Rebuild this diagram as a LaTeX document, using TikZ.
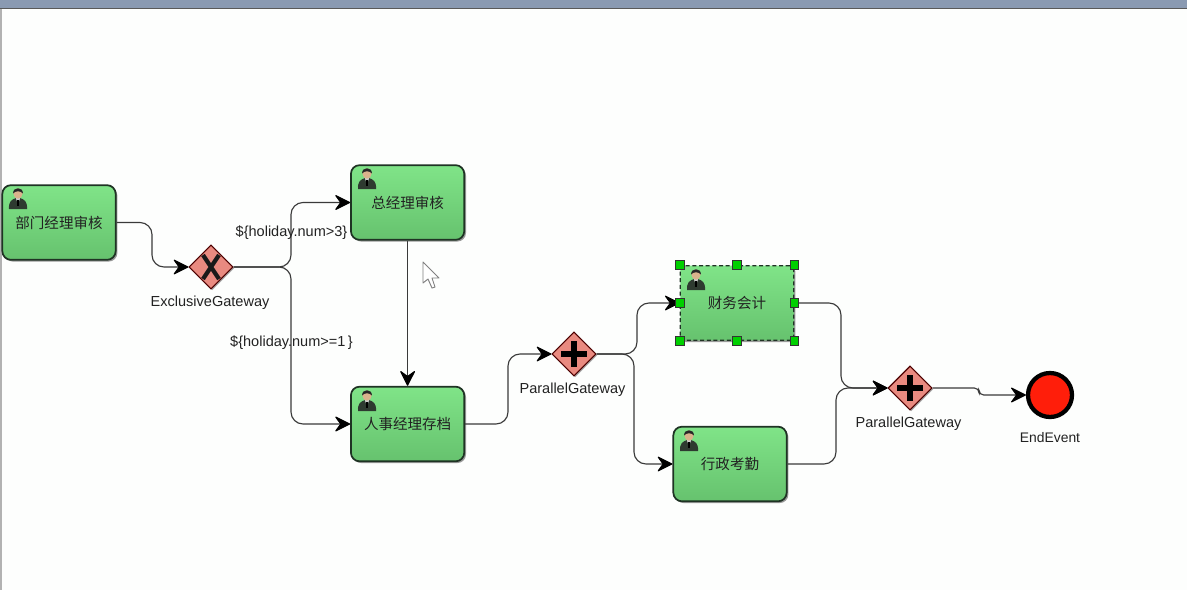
\documentclass[tikz,border=0pt]{standalone}
\usepackage{fontspec}
\setmainfont{Liberation Sans}
\newfontfamily\cjk{Noto Sans CJK SC}
\usetikzlibrary{arrows.meta,shapes.geometric,shadows}
\definecolor{bgc}{HTML}{FDFEFD}
\definecolor{barc}{HTML}{8A9AB2}
\definecolor{edgec}{HTML}{3A3A3A}
\definecolor{gtop}{HTML}{80E488}
\definecolor{gbot}{HTML}{66C26E}
\definecolor{gatec}{HTML}{E98A80}
\definecolor{handlec}{HTML}{00D000}
\definecolor{endc}{HTML}{FF1E0A}
\definecolor{txtc}{HTML}{222222}
\definecolor{boxc}{HTML}{1F3324}
\definecolor{suitc}{HTML}{2E3A30}
\tikzset{
  taskbox/.style={draw=boxc,line width=1.3pt,rounded corners=6.5pt,
    minimum width=85pt,minimum height=56pt,inner sep=0pt,top color=gtop,bottom color=gbot,
    copy shadow={shadow xshift=1.3pt,shadow yshift=-1.3pt,draw=none,fill=black!40},
    font=\cjk\fontsize{10.9}{12}\selectfont,text=txtc},
  selbox/.style={taskbox,line width=.9pt,rounded corners=3pt,dash pattern=on 3pt off 2pt},
  gate/.style={diamond,shape aspect=1,draw=black!70!red,line width=.8pt,fill=gatec,
    minimum width=33pt,minimum height=33pt,inner sep=0pt,
    copy shadow={shadow xshift=1pt,shadow yshift=-1pt,draw=none,fill=black!35}},
  endnode/.style={circle,draw=black,line width=3.2pt,fill=endc,minimum size=33pt,inner sep=0pt},
  lbl/.style={font=\fontsize{10.9}{12}\selectfont,text=txtc,inner sep=0pt},
  flow/.style={draw=edgec,line width=.85pt,rounded corners=9pt,
    -{Stealth[length=12.5pt,width=12.5pt,inset=4.5pt,round,color=black]}},
  handle/.style={rectangle,draw=black!80,line width=.6pt,fill=handlec,minimum size=6.5pt,inner sep=0pt}
}
\newcommand{\personicon}[1]{%
  \begin{scope}[shift={(#1)}]
    \fill[suitc] (-9,13) .. controls (-9.5,5) and (-6,3.5) .. (-2,2) -- (2,2) .. controls (6,3.5) and (9.5,5) .. (9,13) -- cycle;
    \fill[black!20] (-2.2,2.2) -- (2.2,2.2) -- (0,8) -- cycle;
    \fill[black] (-.7,3.5) rectangle (.7,10);
    \fill[brown!60!white] (0,-2.5) ellipse (4.6 and 5.2);
    \fill[black!85] (-4.9,-2.5) .. controls (-5.4,-9.5) and (5.4,-9.5) .. (4.9,-2.5) .. controls (3,-5.5) and (-3,-5.5) .. (-4.9,-2.5) -- cycle;
  \end{scope}}
\begin{document}
\begin{tikzpicture}[x=.75pt,y=-.75pt]
\useasboundingbox (0,0) rectangle (1187,590);
\fill[bgc] (0,0) rectangle (1187,590);
\fill[barc] (0,0) rectangle (1187,8);
\fill[black!65] (0,7.5) rectangle (1187,9);
\fill[black!30] (0,9) rectangle (2,590);

\node[taskbox] (a) at (59,222.5) {部门经理审核};
\node[taskbox] (b) at (407.6,202.5) {总经理审核};
\node[taskbox] (c) at (407.6,424) {人事经理存档};
\node[selbox] (d) at (737,303) {财务会计};
\node[taskbox] (e) at (730,464) {行政考勤};
\personicon{18,196}
\personicon{367,176}
\personicon{367,398}
\personicon{696,277}
\personicon{689,438}

\node[gate] (g1) at (211,267) {};
\node[gate] (g2) at (574,354) {};
\node[gate] (g3) at (910,388) {};
\node[endnode] (end) at (1050,395) {};

\draw[black!90,line width=3.2pt] (203,255) -- (219,279) (219,255) -- (203,279);
\draw[black,line width=4.2pt] (561,354) -- (587,354) (574,341) -- (574,367);
\draw[black,line width=4.2pt] (897,388) -- (923,388) (910,375) -- (910,401);

\node[lbl] (lg1) at (210,303) {ExclusiveGateway};
\node[lbl] (lg2) at (572.5,390) {ParallelGateway};
\node[lbl] (lg3) at (908.5,424) {ParallelGateway};
\node[lbl,font=\fontsize{10.4}{12}\selectfont] (lend) at (1050,438) {EndEvent};

\coordinate (x1) at (152,300);
\coordinate (x2) at (291,300);
\coordinate (x3) at (508,300);
\coordinate (x4) at (637,300);
\coordinate (x5) at (634,300);
\coordinate (x6) at (841,300);
\coordinate (x7) at (836,300);
\coordinate (x8) at (979,300);

\draw[flow] (a.east) -- (a.east -| x1) -- (g1.west -| x1) -- (g1.west);
\draw[flow] (g1.east) -- (g1.east -| x2) -- (b.west -| x2) -- (b.west);
\draw[flow] (g1.east) -- (g1.east -| x2) -- (c.west -| x2) -- (c.west);
\draw[flow] (b.south) -- (c.north);
\draw[flow] (c.east) -- (c.east -| x3) -- (g2.west -| x3) -- (g2.west);
\draw[flow] (g2.east) -- (g2.east -| x4) -- (d.west -| x4) -- (d.west);
\draw[flow] (g2.east) -- (g2.east -| x5) -- (e.west -| x5) -- (e.west);
\draw[flow] (d.east) -- (d.east -| x6) -- (g3.west -| x6) -- (g3.west);
\draw[flow] (e.east) -- (e.east -| x7) -- (g3.west -| x7) -- (g3.west);
\draw[flow,rounded corners=3.5pt] (g3.east) -- (g3.east -| x8) -- (end.west -| x8) -- (end.west);

\node[lbl] (c1) at (291.5,233) {\$\{holiday.num>3\}};
\node[lbl] (c2) at (291.5,343) {\$\{holiday.num>=1\,\}};

\foreach \n/\p in {h1/north west,h2/north,h3/north east,h4/west,h5/east,h6/south west,h7/south,h8/south east}
  \node[handle] (\n) at (d.\p) {};

\draw[draw=black!50,fill=white,line width=.7pt,line join=round]
  (423,262) -- (423,283) -- (428,279) -- (432,288) -- (435,287) -- (432,278) -- (439,278) -- cycle;
\end{tikzpicture}
\end{document}
